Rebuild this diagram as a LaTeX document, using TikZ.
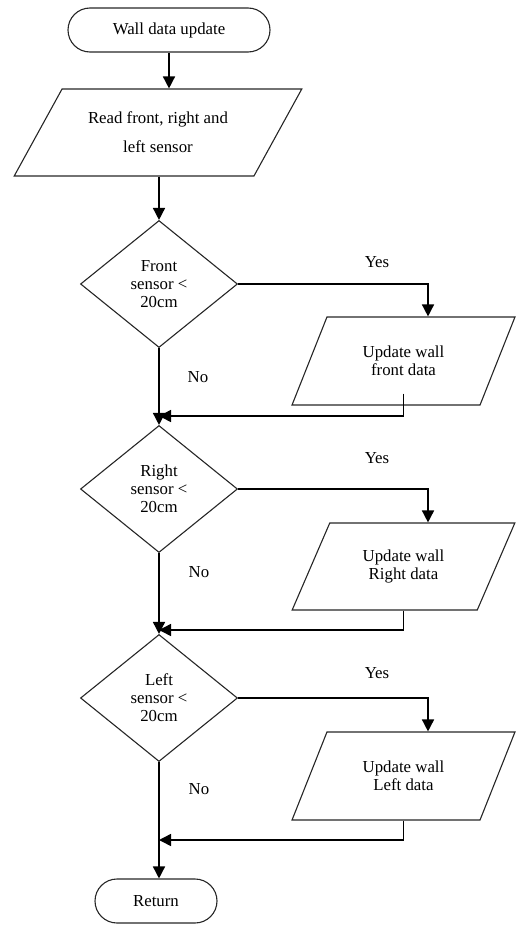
\documentclass[tikz,border=0pt]{standalone}
\usepackage{fontspec}
\setmainfont{Liberation Serif}
\usetikzlibrary{shapes.geometric,shapes.misc,arrows.meta,calc}
\begin{document}
\begin{tikzpicture}[x=1pt,y=-1pt,
  every node/.style={font=\fontsize{16.8}{18}\selectfont, text=black},
  shapeline/.style={draw=black!85, line width=1.1pt},
  term/.style={shapeline, rounded rectangle, minimum height=44pt, inner sep=0pt},
  io/.style={shapeline, trapezium, trapezium stretches=true, inner sep=0pt, align=center},
  dec/.style={shapeline, diamond, inner sep=0pt, minimum width=157pt, minimum height=127pt, align=center},
  flow/.style={draw=black, line width=1.5pt, -{Triangle[length=12pt,width=12pt]}},
  lbl/.style={inner sep=0pt}
]
\useasboundingbox (0,0) rectangle (516,926);
% nodes
\node[term, minimum width=202pt] (start) at (169,30) {Wall data update};
\node[io, trapezium left angle=49.6, trapezium right angle=130.4, minimum width=288pt, minimum height=87pt] (read) at (158,132.5) {Read front, right and\\[11pt]left sensor};
\node[dec] (d1) at (159,284) {Front\\sensor <\\20cm};
\node[io, trapezium left angle=58, trapezium right angle=122, minimum width=223pt, minimum height=88pt] (uf) at (403.5,361) {Update wall\\front data};
\node[dec] (d2) at (159,489) {Right\\sensor <\\20cm};
\node[io, trapezium left angle=58, trapezium right angle=122, minimum width=223pt, minimum height=87pt] (ur) at (403.5,566.5) {Update wall\\Right data};
\node[dec] (d3) at (159,698) {Left\\sensor <\\20cm};
\node[io, trapezium left angle=58, trapezium right angle=122, minimum width=223pt, minimum height=88pt] (ul) at (403.5,776) {Update wall\\Left data};
\node[term, minimum width=122pt] (ret) at (156,901) {Return};
% labels
\node[lbl] (y1) at (377,262) {Yes};
\node[lbl] (y2) at (377,458) {Yes};
\node[lbl] (y3) at (377,673) {Yes};
\node[lbl] (n1) at (198,377) {No};
\node[lbl] (n2) at (199,572) {No};
\node[lbl] (n3) at (199,789) {No};
% join points
\coordinate (j1) at (159,416);
\coordinate (j2) at (159,630);
\coordinate (j3) at (159,840);
% connectors
\draw[flow] (start.south) -- (start.south |- read.north);
\draw[flow] (read.south -| d1.north) -- (d1.north);
\draw[flow] (d1.east) -| ([xshift=24.5pt]uf.north);
\draw[flow] (d1.south) -- (d2.north);
\draw[flow] ([yshift=12pt]uf.south) |- (j1);
\draw[flow] (d2.east) -| ([xshift=24.5pt]ur.north);
\draw[flow] (d2.south) -- (d3.north);
\draw[flow] (ur.south) |- (j2);
\draw[flow] (d3.east) -| ([xshift=24.5pt]ul.north);
\draw[flow] (d3.south) -- (d3.south |- ret.north);
\draw[flow] (ul.south) |- (j3);
\end{tikzpicture}
\end{document}
